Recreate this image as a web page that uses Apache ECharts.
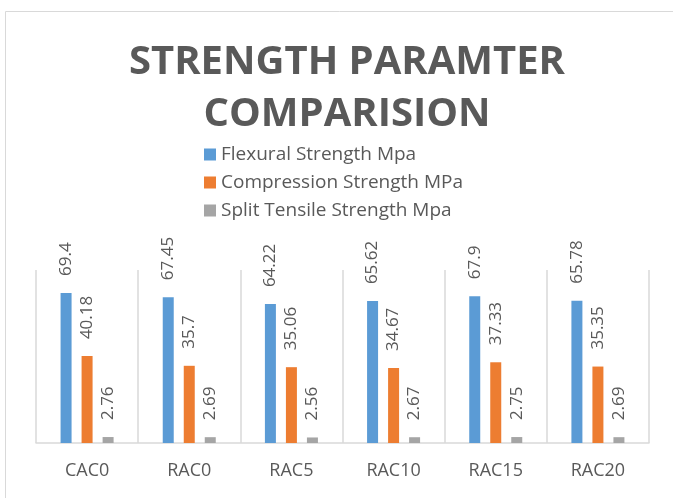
<!DOCTYPE html>
<html>
<head>
<meta charset="utf-8">
<script src="https://cdn.jsdelivr.net/npm/echarts@6/dist/echarts.min.js"></script>
<style>
  html, body { margin: 0; padding: 0; background: #fff; }
  #chart { width: 673px; height: 498px; }
</style>
</head>
<body>
<div id="chart"></div>
<script>
// Mix designs along the category axis
const categories = ['CAC0', 'RAC0', 'RAC5', 'RAC10', 'RAC15', 'RAC20'];

// Measured strengths per mix
const flexural = [69.4, 67.45, 64.22, 65.62, 67.9, 65.78];
const compression = [40.18, 35.7, 35.06, 34.67, 37.33, 35.35];
const splitTensile = [2.76, 2.69, 2.56, 2.67, 2.75, 2.69];

const seriesNames = ['Flexural Strength Mpa', 'Compression Strength MPa', 'Split Tensile Strength Mpa'];
const colors = ['#5B9BD5', '#ED7D31', '#A5A5A5'];

const textColor = '#595959';
const font = '"Open Sans", Lato, sans-serif';

function barSeries(name, data, color) {
  return {
    name: name,
    type: 'bar',
    data: data,
    barWidth: 11,
    barGap: '91%',
    itemStyle: { color: color },
    label: {
      show: true,
      position: 'top',
      distance: 17,
      rotate: 90,
      align: 'left',
      verticalAlign: 'middle',
      color: textColor,
      fontFamily: font,
      fontSize: 17
    }
  };
}

const chart = echarts.init(document.getElementById('chart'), null, { renderer: 'canvas' });
chart.setOption({
  animation: false,
  color: colors,
  graphic: [{
    type: 'rect',
    shape: { x: 5.5, y: 11.5, width: 800, height: 600 },
    style: { fill: null, stroke: '#d9d9d9', lineWidth: 1 },
    silent: true,
    z: -10
  }],
  title: {
    text: 'STRENGTH PARAMTER\nCOMPARISION',
    left: 342,
    top: 32,
    textAlign: 'center',
    textStyle: {
      color: textColor,
      fontFamily: font,
      fontWeight: 'bold',
      fontSize: 40,
      lineHeight: 52
    }
  },
  legend: {
    orient: 'vertical',
    left: 199,
    top: 140,
    itemWidth: 12,
    itemHeight: 12,
    itemGap: 9,
    icon: 'rect',
    textStyle: { color: textColor, fontFamily: font, fontSize: 19 },
    data: seriesNames
  },
  grid: { left: 36, right: 24, top: 270, bottom: 55, containLabel: false },
  xAxis: {
    type: 'category',
    data: categories,
    axisLine: { lineStyle: { color: '#d9d9d9', width: 1.5 } },
    axisTick: { show: false },
    splitLine: { show: true, lineStyle: { color: '#d9d9d9', width: 1.5 } },
    axisLabel: { color: textColor, fontFamily: font, fontSize: 18, margin: 19 }
  },
  yAxis: {
    type: 'value',
    min: 0,
    max: 80,
    show: false,
    splitLine: { show: false }
  },
  series: [
    barSeries(seriesNames[0], flexural, colors[0]),
    barSeries(seriesNames[1], compression, colors[1]),
    barSeries(seriesNames[2], splitTensile, colors[2])
  ]
});
</script>
</body>
</html>
